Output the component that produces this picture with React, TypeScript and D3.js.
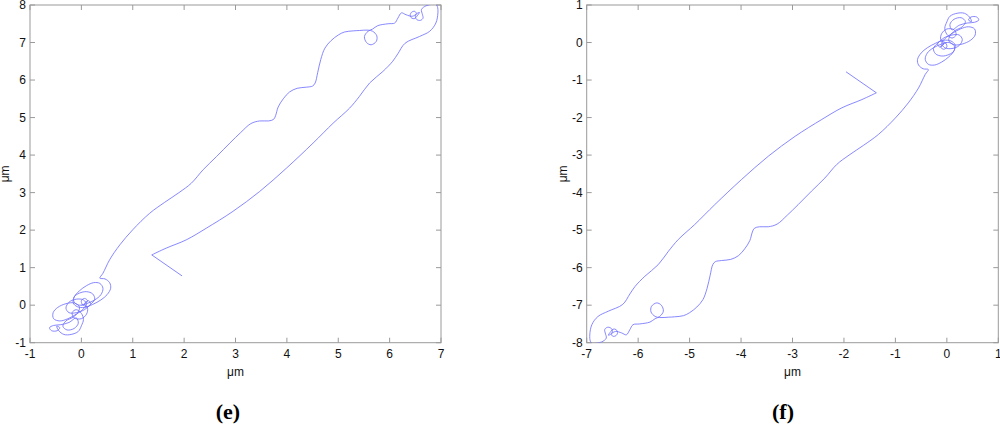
import React from 'react';
import * as d3 from 'd3';

// Trajectory of panel (e), in µm, in path order.
const trajectoryE: [number, number][] = [
  [1.96, 0.78], [1.37, 1.34], [1.65, 1.52], [2.04, 1.74], [2.43, 2.05], [2.95, 2.5],
  [3.47, 3.03], [3.99, 3.65], [4.51, 4.32], [4.9, 4.85], [5.22, 5.25], [5.41, 5.56],
  [5.61, 5.92], [5.87, 6.23], [6.06, 6.5], [6.16, 6.7], [6.3, 6.98], [6.58, 7.16],
  [6.78, 7.3], [6.9, 7.52], [6.94, 7.79], [6.93, 7.96], [6.9, 8.02], [6.84, 8.02],
  [6.71, 7.98], [6.62, 7.88], [6.64, 7.74], [6.65, 7.65], [6.6, 7.59], [6.53, 7.61],
  [6.5, 7.69], [6.53, 7.77], [6.58, 7.8], [6.53, 7.7], [6.49, 7.64], [6.43, 7.65],
  [6.4, 7.73], [6.43, 7.81], [6.49, 7.83], [6.52, 7.77], [6.44, 7.7], [6.32, 7.74],
  [6.23, 7.79], [6.16, 7.65], [6.1, 7.52], [5.97, 7.5], [5.77, 7.45], [5.67, 7.36],
  [5.58, 7.3], [5.51, 7.16], [5.55, 7.0], [5.64, 6.94], [5.74, 7.03], [5.75, 7.18],
  [5.67, 7.3], [5.58, 7.33], [5.41, 7.32], [5.29, 7.31], [5.12, 7.28], [5.0, 7.2],
  [4.86, 7.05], [4.74, 6.85], [4.66, 6.55], [4.6, 6.2], [4.55, 5.92], [4.5, 5.84],
  [4.38, 5.81], [4.2, 5.78], [4.05, 5.68], [3.93, 5.5], [3.83, 5.28], [3.78, 5.05],
  [3.74, 4.95], [3.64, 4.91], [3.47, 4.91], [3.3, 4.84], [3.1, 4.6], [2.89, 4.32],
  [2.63, 3.96], [2.37, 3.61], [2.14, 3.25], [1.9, 3.0], [1.62, 2.74], [1.33, 2.45],
  [1.0, 2.01], [0.75, 1.61], [0.55, 1.21], [0.42, 0.85], [0.36, 0.72],
  // tangle of loops near the origin
  [0.46, 0.7], [0.55, 0.6], [0.57, 0.45], [0.5, 0.28], [0.38, 0.14], [0.22, 0.02],
  [0.06, -0.06], [-0.08, -0.04], [-0.16, 0.06], [-0.14, 0.22], [-0.04, 0.38], [0.1, 0.52],
  [0.24, 0.6], [0.36, 0.58], [0.42, 0.45], [0.38, 0.28], [0.26, 0.14], [0.1, 0.04],
  [-0.04, 0.0], [-0.14, 0.08], [-0.14, 0.22], [-0.04, 0.32], [0.1, 0.36], [0.22, 0.3],
  [0.26, 0.16], [0.18, 0.02], [0.06, -0.12], [-0.1, -0.2], [-0.24, -0.2], [-0.3, -0.08],
  [-0.24, 0.08], [-0.1, 0.16], [0.04, 0.14], [0.1, 0.02], [0.04, -0.1], [-0.1, -0.24],
  [-0.26, -0.36], [-0.42, -0.42], [-0.54, -0.36], [-0.55, -0.2], [-0.46, -0.06],
  [-0.3, 0.04], [-0.14, 0.06], [-0.04, -0.04], [-0.06, -0.18], [-0.16, -0.32],
  [-0.3, -0.42], [-0.36, -0.56], [-0.28, -0.66], [-0.14, -0.62], [-0.06, -0.48],
  [-0.1, -0.34], [-0.24, -0.46], [-0.4, -0.52], [-0.54, -0.54], [-0.62, -0.6],
  [-0.58, -0.68], [-0.47, -0.68], [-0.42, -0.6], [-0.48, -0.56], [-0.44, -0.68],
  [-0.34, -0.78], [-0.2, -0.78], [-0.06, -0.7], [0.0, -0.55], [0.04, -0.38],
  [0.0, -0.22], [-0.1, -0.12], [-0.18, -0.2], [-0.14, -0.34], [0.0, -0.36], [0.1, -0.24],
  [0.12, -0.08], [0.06, 0.04], [0.14, 0.12], [0.18, 0.04], [0.12, -0.04], [0.02, 0.02],
  [0.0, 0.12], [0.06, 0.18], [0.12, 0.12], [0.06, 0.02], [0.0, 0.0],
];

// Panel (f) is the same trajectory mirrored through the origin.
const trajectoryF: [number, number][] = trajectoryE.map(([x, y]) => [-x, -y]);

const xTicksE = [-1, 0, 1, 2, 3, 4, 5, 6, 7];
const yTicksE = [-1, 0, 1, 2, 3, 4, 5, 6, 7, 8];
const xTicksF = [-7, -6, -5, -4, -3, -2, -1, 0, 1];
const yTicksF = [-8, -7, -6, -5, -4, -3, -2, -1, 0, 1];
const axisUnit = 'μm';
const panelNames = ['(e)', '(f)'];

type PanelProps = {
  id: string;
  left: number;
  right: number;
  top: number;
  bottom: number;
  xTicks: number[];
  yTicks: number[];
  data: [number, number][];
  name: string;
  nameX: number;
  yLabelX: number;
};

function Panel(p: PanelProps) {
  const x = d3.scaleLinear().domain([p.xTicks[0], p.xTicks[p.xTicks.length - 1]]).range([p.left, p.right]);
  const y = d3.scaleLinear().domain([p.yTicks[0], p.yTicks[p.yTicks.length - 1]]).range([p.bottom, p.top]);
  const lineLin = d3.line<[number, number]>().x(d => x(d[0])).y(d => y(d[1]));
  const lineCurve = d3
    .line<[number, number]>()
    .x(d => x(d[0]))
    .y(d => y(d[1]))
    .curve(d3.curveCatmullRom.alpha(0.5));
  const tl = 5;
  const boxColor = '#9a9a9a';
  const font = 'Liberation Sans, Arial, sans-serif';
  const cx = (p.left + p.right) / 2;
  return (
    <g>
      <defs>
        <clipPath id={p.id}>
          <rect x={p.left} y={p.top} width={p.right - p.left} height={p.bottom - p.top} />
        </clipPath>
      </defs>
      <rect x={p.left} y={p.top} width={p.right - p.left} height={p.bottom - p.top} fill="#fff" stroke={boxColor} strokeWidth={1} />
      {p.xTicks.map(t => (
        <g key={'x' + t}>
          <line x1={x(t)} x2={x(t)} y1={p.bottom} y2={p.bottom - tl} stroke={boxColor} />
          <line x1={x(t)} x2={x(t)} y1={p.top} y2={p.top + tl} stroke={boxColor} />
          <text x={x(t)} y={p.bottom + 15} fontSize={12} fontFamily={font} textAnchor="middle" fill="#111">
            {t}
          </text>
        </g>
      ))}
      {p.yTicks.map(t => (
        <g key={'y' + t}>
          <line x1={p.left} x2={p.left + tl} y1={y(t)} y2={y(t)} stroke={boxColor} />
          <line x1={p.right} x2={p.right - tl} y1={y(t)} y2={y(t)} stroke={boxColor} />
          <text x={p.left - 4} y={y(t) + 4.3} fontSize={12} fontFamily={font} textAnchor="end" fill="#111">
            {t}
          </text>
        </g>
      ))}
      <g clipPath={`url(#${p.id})`} fill="none" stroke="#7373ff" strokeWidth={0.85} strokeLinejoin="round">
        <path d={lineLin(p.data.slice(0, 2)) || ''} />
        <path d={lineCurve(p.data.slice(1)) || ''} />
      </g>
      <text x={cx} y={376} fontSize={12} fontFamily={font} textAnchor="middle" fill="#111">
        {axisUnit}
      </text>
      <text
        transform={`translate(${p.yLabelX},${(p.top + p.bottom) / 2}) rotate(-90)`}
        fontSize={12}
        fontFamily={font}
        textAnchor="middle"
        fill="#111"
      >
        {axisUnit}
      </text>
      <text x={p.nameX} y={419} fontSize={22} fontFamily="Liberation Serif, Times New Roman, serif" fontWeight="bold" textAnchor="middle" fill="#000">
        {p.name}
      </text>
    </g>
  );
}

export default function App() {
  return (
    <svg width={1000} height={430} style={{ position: 'absolute', left: 0, top: 0, background: '#fff' }}>
      <rect width={1000} height={430} fill="#fff" />
      <Panel
        id="clipE"
        left={30}
        right={441}
        top={5}
        bottom={342.7}
        xTicks={xTicksE}
        yTicks={yTicksE}
        data={trajectoryE}
        name={panelNames[0]}
        nameX={228}
        yLabelX={9}
      />
      <Panel
        id="clipF"
        left={586.7}
        right={998.3}
        top={5}
        bottom={342.7}
        xTicks={xTicksF}
        yTicks={yTicksF}
        data={trajectoryF}
        name={panelNames[1]}
        nameX={783}
        yLabelX={567}
      />
    </svg>
  );
}
